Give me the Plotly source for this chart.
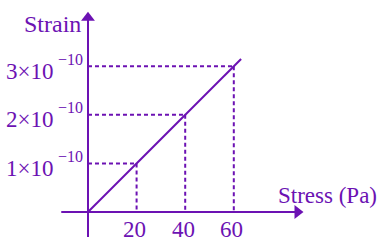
import plotly.graph_objects as go

# ---- data ----
stress = [20, 40, 60]          # Pa
strain = [1, 2, 3]             # in units of 1e-10
line_stress = [0, 63]
line_strain = [0, 3.15]
x_tick_labels = ["20", "40", "60"]
y_tick_mant = ["1×10", "2×10", "3×10"]
y_tick_exp = "−10"

W, H = 384, 247
PURPLE = "#6c12b3"
FONT = "Liberation Serif, Times New Roman, serif"

X0, X1 = -36.21, 121.81
Y0, Y1 = -0.7206, 4.365

fig = go.Figure()

# axes lines (as traces)
fig.add_trace(go.Scatter(x=[-11, 86], y=[0, 0], mode="lines",
                         line=dict(color=PURPLE, width=2), hoverinfo="skip"))
fig.add_trace(go.Scatter(x=[0, 0], y=[-0.515, 3.96], mode="lines",
                         line=dict(color=PURPLE, width=2), hoverinfo="skip"))
# arrow heads
fig.add_trace(go.Scatter(x=[86.2], y=[0], mode="markers",
                         marker=dict(symbol="triangle-right", size=12, color=PURPLE),
                         hoverinfo="skip"))
fig.add_trace(go.Scatter(x=[0], y=[4.0], mode="markers",
                         marker=dict(symbol="triangle-up", size=12, color=PURPLE),
                         hoverinfo="skip"))

# dashed guide lines
for sx, sy in zip(stress, strain):
    fig.add_trace(go.Scatter(x=[0, sx], y=[sy, sy], mode="lines",
                             line=dict(color=PURPLE, width=2, dash="4px,3px"),
                             hoverinfo="skip"))
    fig.add_trace(go.Scatter(x=[sx, sx], y=[sy, 0], mode="lines",
                             line=dict(color=PURPLE, width=2, dash="4px,3px"),
                             hoverinfo="skip"))

# main line
fig.add_trace(go.Scatter(x=line_stress, y=line_strain, mode="lines",
                         line=dict(color=PURPLE, width=2), hoverinfo="skip"))

ann = []
# y tick labels
for v, m in zip(strain, y_tick_mant):
    ann.append(dict(x=0, y=v, xref="x", yref="y", text=m, showarrow=False,
                    xanchor="right", yanchor="middle", xshift=-33, yshift=-5,
                    font=dict(family=FONT, size=23, color=PURPLE)))
    ann.append(dict(x=0, y=v, xref="x", yref="y", text=y_tick_exp, showarrow=False,
                    xanchor="left", yanchor="middle", xshift=-32, yshift=7,
                    font=dict(family=FONT, size=16, color=PURPLE)))
# x tick labels
for v, t in zip(stress, x_tick_labels):
    ann.append(dict(x=v, y=0, xref="x", yref="y", text=t, showarrow=False,
                    xanchor="center", yanchor="middle", yshift=-17, xshift=-2,
                    font=dict(family=FONT, size=23, color=PURPLE)))
# axis titles
ann.append(dict(x=52 / W, y=1 - 24 / H, xref="paper", yref="paper", text="Strain",
                showarrow=False, xanchor="center", yanchor="middle",
                font=dict(family=FONT, size=24, color=PURPLE)))
ann.append(dict(x=327 / W, y=1 - 195 / H, xref="paper", yref="paper", text="Stress (Pa)",
                showarrow=False, xanchor="center", yanchor="middle",
                font=dict(family=FONT, size=23, color=PURPLE)))

fig.update_layout(
    width=W, height=H, margin=dict(l=0, r=0, t=0, b=0),
    paper_bgcolor="white", plot_bgcolor="white", showlegend=False,
    xaxis=dict(range=[X0, X1], visible=False, fixedrange=True),
    yaxis=dict(range=[Y0, Y1], visible=False, fixedrange=True),
    annotations=ann,
)
fig.write_html("out.html", config={"displayModeBar": False})
